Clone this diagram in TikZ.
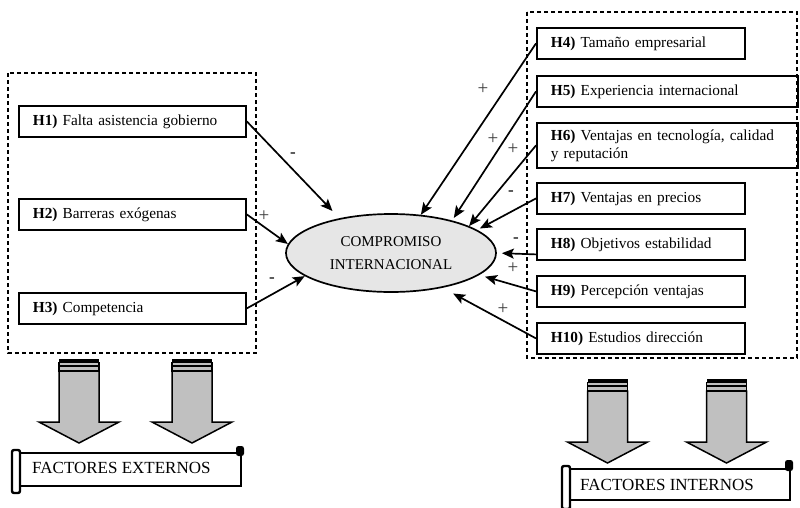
\documentclass[tikz,border=0pt]{standalone}
\usepackage{fontspec}
\setmainfont{Liberation Serif}
\usetikzlibrary{shapes.geometric,arrows.meta}
\definecolor{ellfill}{RGB}{230,230,230}
\definecolor{blkfill}{RGB}{192,192,192}
\definecolor{signcol}{RGB}{60,60,60}
\begin{document}
\begin{tikzpicture}[x=1pt,y=-1pt,
  hbox/.style={draw, line width=1.8pt, anchor=north west, inner xsep=14pt, inner ysep=0pt,
    align=left, font=\fontsize{15.3}{18}\selectfont},
  lbox/.style={hbox, minimum width=227pt, text width=199pt, minimum height=31pt},
  rbox/.style={hbox, minimum width=208pt, text width=180pt, minimum height=31pt},
  wbox/.style={hbox, minimum width=261pt, text width=233pt, minimum height=31pt},
  grp/.style={draw, line width=1.4pt, dash pattern=on 4pt off 3pt},
  arr/.style={line width=1.7pt, -{Stealth[length=12pt,width=10pt,inset=2.5pt]}},
  sign/.style={text=signcol, font=\fontsize{19}{19}\selectfont, inner sep=0pt},
  minus/.style={text=black, font=\fontsize{17}{17}\selectfont, inner sep=0pt},
  banner/.style={font=\fontsize{17}{17}\selectfont, anchor=west, inner sep=0pt},
  blockarr/.pic={
    \fill[black] (-20,0) rectangle (20,2.5);
    \draw[line width=1.1pt, fill=blkfill] (-20,3.5) rectangle (20,7);
    \draw[line width=1.1pt, fill=blkfill] (-20,7) rectangle (20,12);
    \draw[line width=1.5pt, fill=blkfill, line join=miter]
      (-20,12) -- (20,12) -- (20,63) -- (40,63) -- (0,84) -- (-40,63) -- (-20,63) -- cycle;
  }]
\useasboundingbox (0,0) rectangle (800,507);

% group frames
\draw[grp] (8,73) rectangle (256,353);
\draw[grp] (527,12) rectangle (797,358);

% central ellipse
\node[ellipse, draw, line width=1.7pt, fill=ellfill, minimum width=210pt, minimum height=78pt,
  inner sep=0pt, align=center, font=\fontsize{15}{23}\selectfont] (ell) at (391,253)
  {COMPROMISO\\INTERNACIONAL};

% external factors
\node[lbox] (h1) at (18,105) {\textbf{H1)} Falta asistencia gobierno};
\node[lbox] (h2) at (18,198) {\textbf{H2)} Barreras exógenas};
\node[lbox] (h3) at (18,292) {\textbf{H3)} Competencia};

% internal factors
\node[rbox] (h4) at (536,27) {\textbf{H4)} Tamaño empresarial};
\node[wbox] (h5) at (536,75) {\textbf{H5)} Experiencia internacional};
\node[wbox, minimum height=45pt] (h6) at (536,122) {\textbf{H6)} Ventajas en tecnología, calidad\\y reputación};
\node[rbox] (h7) at (536,182) {\textbf{H7)} Ventajas en precios};
\node[rbox] (h8) at (536,228) {\textbf{H8)} Objetivos estabilidad};
\node[rbox] (h9) at (536,275) {\textbf{H9)} Percepción ventajas};
\node[rbox] (h10) at (536,322) {\textbf{H10)} Estudios dirección};

% connectors
\draw[arr, shorten >=10pt] (h1.east) -- (ell.146.7);
\draw[arr] (h2.east) -- (ell.175);
\draw[arr] (h3.east) -- (ell.195);
\draw[arr] (h4.west) -- (ell.52);
\draw[arr, shorten >=3pt] (h5.west) -- (ell.28);
\draw[arr] (h6.west) -- (ell.19);
\draw[arr, shorten >=3pt] (h7.west) -- (ell.15);
\draw[arr, shorten >=5pt] ([yshift=-10pt]h8.west) -- (ell.0);
\draw[arr, shorten >=6pt] (h9.west) -- (ell.-14);
\draw[arr, shorten >=12pt] (h10.west) -- (ell.-34);

% signs
\node[minus] (s1) at (293,155) {-};
\node[sign] (s2) at (264,216) {+};
\node[minus] (s3) at (272,280) {-};
\node[sign] (s4) at (483,89) {+};
\node[sign] (s5) at (493,139) {+};
\node[sign] (s6) at (513,149) {+};
\node[minus] (s7) at (511,193) {-};
\node[minus] (s8) at (516,240) {-};
\node[sign] (s9) at (513,268) {+};
\node[sign] (s10) at (503,309) {+};

% block arrows
\pic at (79,359) {blockarr};
\pic at (192,359) {blockarr};
\pic at (607.5,379) {blockarr};
\pic at (726.5,379) {blockarr};

% banner: external
\draw[line width=2.8pt, fill=white] (18,453) rectangle (241,486);
\draw[line width=2.4pt, fill=white, rounded corners=2pt] (12,450) rectangle (20,493);
\fill[black, rounded corners=2.5pt] (236,446) rectangle (244,456);
\node[banner] (fe) at (32,468) {FACTORES EXTERNOS};

% banner: internal
\draw[line width=2.8pt, fill=white] (567,469) rectangle (790,500);
\draw[line width=2.4pt, fill=white, rounded corners=2pt] (562,466) rectangle (570,509);
\fill[black, rounded corners=2.5pt] (785,460) rectangle (793,471);
\node[banner] (fi) at (580,485) {FACTORES INTERNOS};
\end{tikzpicture}
\end{document}
